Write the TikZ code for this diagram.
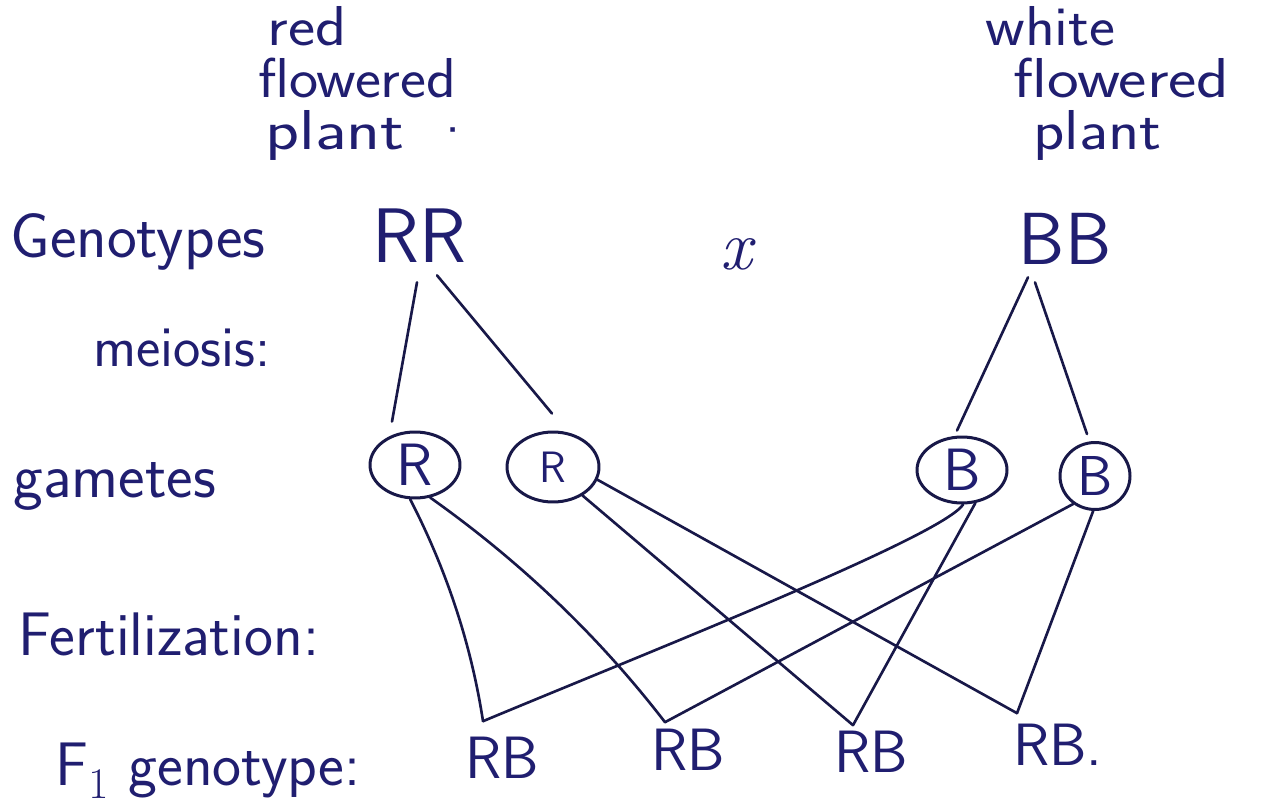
\documentclass[tikz,border=0pt]{standalone}
\usetikzlibrary{calc,shapes.geometric}
\definecolor{ink}{RGB}{32,30,112}
\definecolor{pen}{RGB}{24,24,72}
\begin{document}
\begin{tikzpicture}[x=0.02cm,y=-0.02cm,
  lbl/.style={inner sep=0pt,text=ink,font=\sffamily\fontsize{#1}{#1}\selectfont},
  gam/.style={ellipse,draw=pen,line width=1.7pt,inner sep=0pt,text=ink},
  wire/.style={draw=pen,line width=1.5pt,line cap=round}]
\fill[white] (0,0) rectangle (1270,810);
\useasboundingbox (0,0) rectangle (1270,810);

% parent labels
\node[lbl=32pt,anchor=base west] (red1) at (267,46) {\scalebox{1.15}[1]{red}};
\node[lbl=32pt,anchor=base west] (red2) at (258,98) {\scalebox{1.1}[1]{flowered}};
\node[lbl=32pt,anchor=base west] (red3) at (265,150) {\scalebox{1.25}[1]{plant}\hspace{16pt}·};
\node[lbl=32pt,anchor=base west] (wht1) at (985,46) {\scalebox{1.1}[1]{white}};
\node[lbl=32pt,anchor=base west] (wht2) at (1013,98) {\scalebox{1.2}[1]{flowered}};
\node[lbl=32pt,anchor=base west] (wht3) at (1033,150) {\scalebox{1.15}[1]{plant}};

% row labels
\node[lbl=36pt,anchor=base west] (geno) at (10,258) {Genotypes};
\node[lbl=33pt,anchor=base west] (meio) at (93,367) {meiosis:};
\node[lbl=36pt,anchor=base west] (gamlbl) at (13,497) {gametes};
\node[lbl=35pt,anchor=base west] (fert) at (18,655) {Fertilization:};
\node[lbl=35pt,anchor=base west] (f1lbl) at (55,785) {F$_1$ genotype:};

% genotypes
\node[lbl=44pt,anchor=base] (RR) at (419,263) {RR};
\node[inner sep=0pt,text=ink,font=\rmfamily\itshape\fontsize{40pt}{40pt}\selectfont,anchor=base] (cross) at (736,270) {x};
\node[lbl=42pt,anchor=base] (BB) at (1065,265) {BB};

% gametes
\node[gam,minimum width=1.8cm,minimum height=1.32cm,font=\sffamily\fontsize{34pt}{34pt}\selectfont] (R1) at (415,465) {R};
\node[gam,minimum width=1.84cm,minimum height=1.4cm,font=\sffamily\fontsize{25pt}{25pt}\selectfont] (R2) at (553,467) {R};
\node[gam,minimum width=1.8cm,minimum height=1.32cm,font=\sffamily\fontsize{34pt}{34pt}\selectfont] (B1) at (962,470) {B};
\node[gam,minimum width=1.4cm,minimum height=1.34cm,font=\sffamily\fontsize{32pt}{32pt}\selectfont] (B2) at (1095,476) {B};

% F1
\node[lbl=34pt,anchor=base] (RB1) at (502,778) {RB};
\node[lbl=34pt,anchor=base] (RB2) at (688,770) {RB};
\node[lbl=34pt,anchor=base] (RB3) at (871,772) {RB};
\node[lbl=34pt,anchor=base west] (RB4) at (1013,765) {RB.};

\coordinate (m1) at ($(RB1.north)+(-19,-15)$);
\coordinate (m2) at ($(RB2.north)+(-23,-6)$);
\coordinate (m3) at ($(RB3.north)+(-18,-5)$);
\coordinate (m4) at ($(RB4.north west)+(4,-10)$);

% meiosis
\draw[wire] ($(RR.south)+(-2,19)$) -- ($(R1.north)+(-23,-9)$);
\draw[wire] ($(RR.south)+(18,12)$) -- ($(R2.north)+(-1,-17)$);
\draw[wire] ($(BB.south)+(-37,12)$) -- ($(B1.north)+(-5,-5)$);
\draw[wire] ($(BB.south)+(-30,17)$) -- ($(B2.north)+(-8,-7)$);

% fertilization
\draw[wire] (R1.262) .. controls +(36,70) and +(-12,-78) .. (m1);
\draw[wire] (R1.295) .. controls +(89,63) and +(-67,-87) .. (m2);
\draw[wire] (R2.316) -- (m3);
\draw[wire] (R2.344) -- (m4);
\draw[wire] (B1.272) .. controls +(-22,32) and +(180,-75) .. (m1);
\draw[wire] (B1.292) -- (m3);
\draw[wire] (B2.232) -- (m2);
\draw[wire] (B2.267) -- (m4);
\end{tikzpicture}
\end{document}
